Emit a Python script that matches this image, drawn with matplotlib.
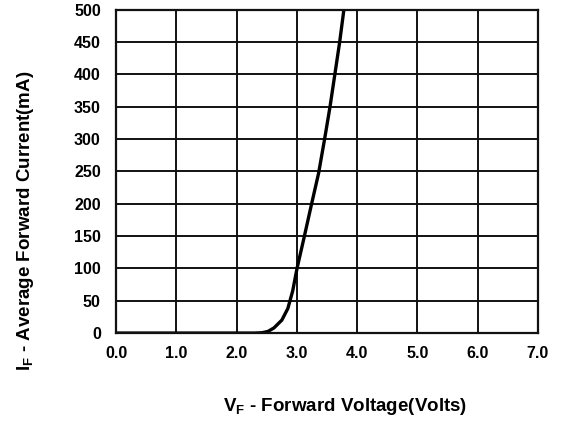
import matplotlib.pyplot as plt

# forward voltage (V) vs forward current (mA)
vf = [0.0, 2.3, 2.42, 2.52, 2.62, 2.75, 2.85, 2.93, 3.0, 3.12, 3.24, 3.36, 3.46, 3.55, 3.63, 3.71, 3.78]
i_f = [0, 0, 0.5, 2.5, 8, 20, 38, 65, 99, 148, 198, 247, 300, 350, 400, 450, 500]

x_ticks = [0.0, 1.0, 2.0, 3.0, 4.0, 5.0, 6.0, 7.0]
y_ticks = list(range(0, 501, 50))

plt.rcParams['font.family'] = ['Liberation Sans', 'DejaVu Sans']

fig = plt.figure(figsize=(5.69, 4.32), dpi=100)
ax = fig.add_axes([0.204, 0.229, 0.7415, 0.749])

ax.plot(vf, i_f, color='black', lw=2.4, solid_capstyle='round', solid_joinstyle='round')

ax.set_xlim(0, 7)
ax.set_ylim(0, 500)
ax.set_xticks(x_ticks)
ax.set_yticks(y_ticks)
ax.set_xticklabels([f"{t:.1f}" for t in x_ticks], fontweight='bold', fontsize=11.5)
ax.set_yticklabels([str(t) for t in y_ticks], fontweight='bold', fontsize=11.5)
ax.tick_params(length=0)
ax.tick_params(axis='x', pad=9)
ax.tick_params(axis='y', pad=11)
ax.grid(True, color='#111111', lw=1.4)
for s in ax.spines.values():
    s.set_linewidth(1.6)
    s.set_color('#111111')

fig.text(0.606, 0.058, r"V$_\mathregular{F}$ - Forward Voltage(Volts)", fontweight='bold',
         fontsize=13.5, ha='center', va='center')
fig.text(0.044, 0.49, r"I$_\mathregular{F}$ - Average Forward Current(mA)", fontweight='bold',
         fontsize=13.5, ha='center', va='center', rotation=90)

fig.savefig("out.png", dpi=100)
plt.close(fig)
